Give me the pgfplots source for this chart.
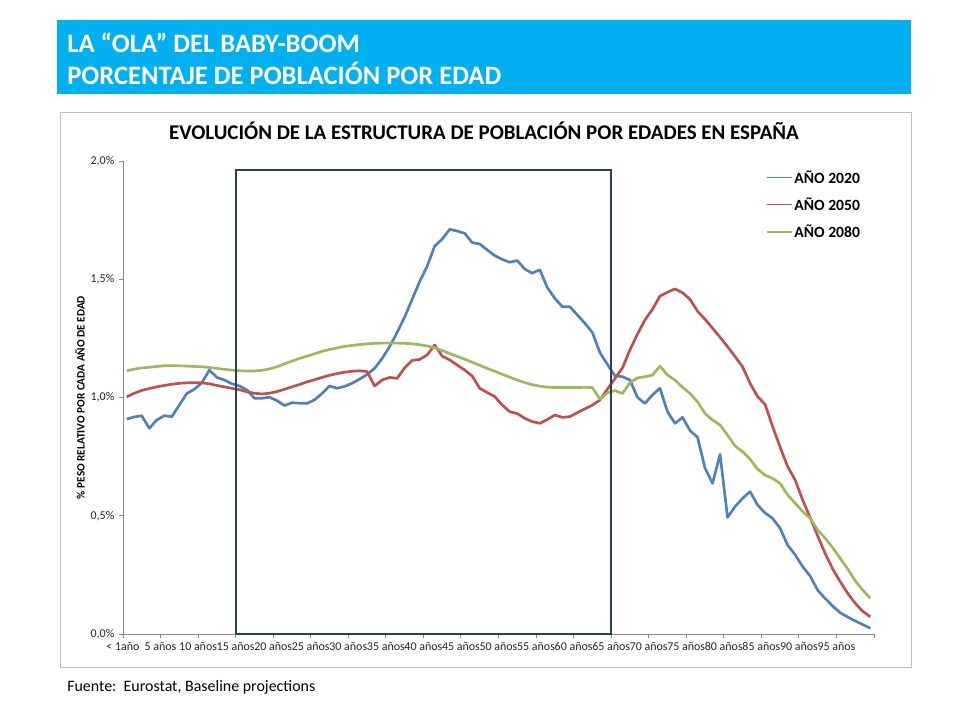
\documentclass[border=0pt]{standalone}
\usepackage{fontspec}
\setmainfont{Carlito}
\usepackage{pgfplots}
\usepackage{pgfplotstable}
\pgfplotsset{compat=1.18}
\definecolor{banner}{HTML}{00B0F0}
\definecolor{c2020}{HTML}{4F81BD}
\definecolor{c2050}{HTML}{C0504D}
\definecolor{c2080}{HTML}{9BBB59}
\definecolor{boxc}{HTML}{254061}
\definecolor{axgray}{HTML}{868686}
\definecolor{framegray}{HTML}{BFBFBF}

\pgfplotstableread{
age y2020 y2050 y2080
0 0.909 1.003 1.113
1 0.918 1.018 1.120
2 0.923 1.030 1.125
3 0.870 1.038 1.128
4 0.905 1.045 1.131
5 0.923 1.051 1.134
6 0.919 1.056 1.135
7 0.968 1.060 1.134
8 1.017 1.062 1.133
9 1.035 1.063 1.131
10 1.062 1.062 1.130
11 1.116 1.058 1.127
12 1.085 1.051 1.123
13 1.074 1.045 1.119
14 1.058 1.039 1.116
15 1.049 1.033 1.113
16 1.032 1.024 1.112
17 0.997 1.018 1.112
18 0.997 1.015 1.115
19 1.001 1.018 1.121
20 0.987 1.025 1.130
21 0.966 1.035 1.142
22 0.978 1.045 1.154
23 0.976 1.055 1.165
24 0.975 1.066 1.175
25 0.990 1.075 1.185
26 1.017 1.085 1.195
27 1.049 1.094 1.203
28 1.039 1.101 1.210
29 1.047 1.107 1.216
30 1.060 1.111 1.220
31 1.078 1.113 1.224
32 1.097 1.110 1.227
33 1.123 1.049 1.229
34 1.165 1.074 1.230
35 1.215 1.085 1.230
36 1.275 1.081 1.230
37 1.340 1.125 1.229
38 1.415 1.157 1.227
39 1.490 1.161 1.223
40 1.555 1.180 1.218
41 1.640 1.222 1.210
42 1.670 1.175 1.199
43 1.711 1.159 1.186
44 1.704 1.137 1.174
45 1.694 1.116 1.162
46 1.655 1.091 1.149
47 1.649 1.039 1.136
48 1.624 1.021 1.123
49 1.600 1.004 1.111
50 1.584 0.968 1.098
51 1.572 0.940 1.086
52 1.579 0.932 1.074
53 1.543 0.912 1.063
54 1.526 0.898 1.054
55 1.540 0.891 1.048
56 1.465 0.907 1.044
57 1.419 0.926 1.042
58 1.384 0.916 1.042
59 1.384 0.919 1.042
60 1.349 0.936 1.042
61 1.314 0.952 1.043
62 1.275 0.968 1.042
63 1.190 0.989 0.993
64 1.140 1.035 1.020
65 1.092 1.080 1.029
66 1.088 1.125 1.017
67 1.074 1.201 1.062
68 1.001 1.268 1.083
69 0.975 1.328 1.088
70 1.011 1.373 1.095
71 1.039 1.429 1.133
72 0.940 1.445 1.095
73 0.891 1.459 1.074
74 0.916 1.443 1.043
75 0.860 1.415 1.017
76 0.832 1.365 0.982
77 0.701 1.331 0.932
78 0.637 1.293 0.905
79 0.760 1.255 0.884
80 0.493 1.215 0.841
81 0.539 1.173 0.795
82 0.574 1.130 0.771
83 0.602 1.060 0.739
84 0.545 1.004 0.697
85 0.512 0.971 0.672
86 0.489 0.877 0.658
87 0.447 0.790 0.637
88 0.376 0.708 0.588
89 0.335 0.651 0.553
90 0.285 0.567 0.518
91 0.245 0.492 0.489
92 0.185 0.415 0.440
93 0.150 0.340 0.405
94 0.118 0.275 0.365
95 0.090 0.221 0.320
96 0.072 0.172 0.275
97 0.055 0.130 0.225
98 0.040 0.096 0.186
99 0.024 0.073 0.151
}\poblacion

\begin{document}
\begin{tikzpicture}
\fill[white] (0,0) rectangle (720bp,-540bp);
\fill[banner] (42.75bp,-15bp) rectangle (683.25bp,-70.5bp);
\node[anchor=base west, inner sep=0pt, text=white, font=\fontsize{20}{23}\selectfont\bfseries] at (50.25bp,-39bp) {LA “OLA” DEL BABY-BOOM};
\node[anchor=base west, inner sep=0pt, text=white, font=\fontsize{20}{23}\selectfont\bfseries] at (50.25bp,-63bp) {PORCENTAJE DE POBLACIÓN POR EDAD};
\draw[framegray, line width=0.75bp] (45bp,-84bp) rectangle (683.25bp,-500.25bp);
\node[anchor=base, inner sep=0pt, font=\fontsize{15.75}{18}\selectfont\bfseries] at (363bp,-104.25bp) {EVOLUCIÓN DE LA ESTRUCTURA DE POBLACIÓN POR EDADES EN ESPAÑA};
\node[anchor=base west, inner sep=0pt, font=\fontsize{12}{14}\selectfont] at (50.25bp,-518.25bp) {Fuente:\ \ Eurostat, Baseline projections};
\begin{axis}[
  at={(92.25bp,-475.5bp)}, anchor=south west,
  width=563.25bp, height=354.75bp, scale only axis,
  xmin=0, xmax=100, ymin=0, ymax=2,
  axis x line*=bottom, axis y line*=left,
  axis line style={axgray, line width=0.75bp},
  tick align=outside, major tick length=3bp,
  tick style={axgray, line width=0.75bp},
  xtick={0,5,...,100},
  xticklabels={{< 1año},{5 años},{10 años},{15 años},{20 años},{25 años},{30 años},{35 años},{40 años},{45 años},{50 años},{55 años},{60 años},{65 años},{70 años},{75 años},{80 años},{85 años},{90 años},{95 años},{}},
  ytick={0,0.5,1,1.5,2},
  yticklabels={{0,0\%},{0,5\%},{1,0\%},{1,5\%},{2,0\%}},
  ticklabel style={font=\fontsize{9}{10}\selectfont, text=black!85},
  /pgf/number format/assume math mode=true,
  ylabel={\% PESO RELATIVO POR CADA AÑO DE EDAD},
  ylabel style={font=\fontsize{8.5}{9}\selectfont\bfseries, at={(axis description cs:-0.057,0.5)}, anchor=center},
  legend style={at={(axis description cs:0.856,0.985)}, anchor=north west, draw=none, fill=none,
    font=\fontsize{11.75}{13}\selectfont\bfseries, row sep=6.3bp, inner sep=0pt,
    nodes={inner sep=1.5bp}},
  legend cell align=left,
  legend image code/.code={\draw[#1, line width=1bp] (0bp,0bp) -- (18.75bp,0bp);},
]
\addplot[c2020, line width=2bp, line join=round] table[x expr=\thisrow{age}+0.5, y=y2020]{\poblacion};
\addlegendentry{AÑO 2020}
\addplot[c2050, line width=2bp, line join=round] table[x expr=\thisrow{age}+0.5, y=y2050]{\poblacion};
\addlegendentry{AÑO 2050}
\addplot[c2080, line width=2bp, line join=round] table[x expr=\thisrow{age}+0.5, y=y2080]{\poblacion};
\addlegendentry{AÑO 2080}
\addplot[boxc, line width=1.5bp, forget plot] coordinates {(15,0) (15,1.96) (65,1.96) (65,0) (15,0)};
\end{axis}
\end{tikzpicture}
\end{document}
